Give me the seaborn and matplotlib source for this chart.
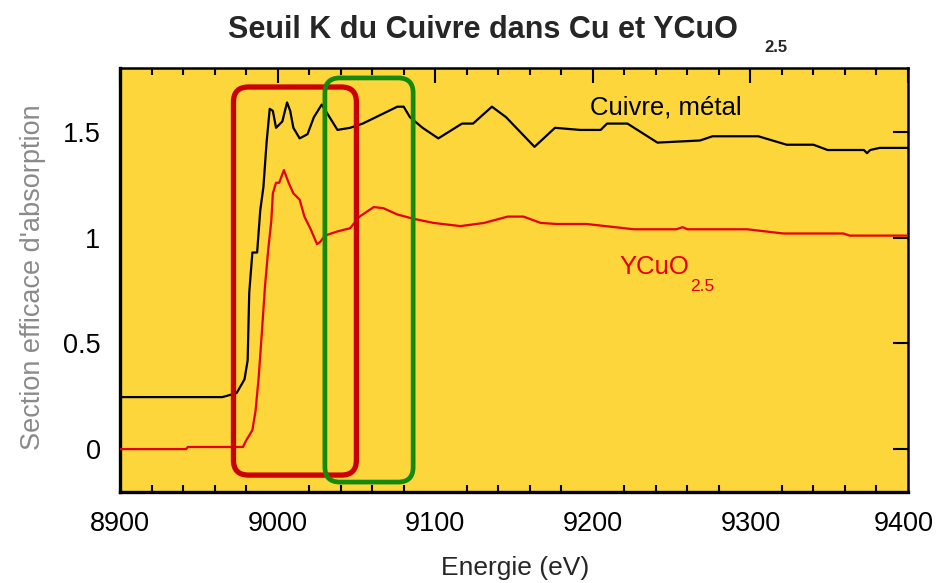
import numpy as np
import pandas as pd
import matplotlib
matplotlib.use("Agg")
import matplotlib.pyplot as plt
import matplotlib.transforms as mtransforms
import seaborn as sns
from matplotlib.patches import FancyBboxPatch
from matplotlib.ticker import MultipleLocator, FuncFormatter

# ---- data ----
cu_energy = [8900, 8965, 8974, 8979, 8981, 8982, 8984, 8987, 8989, 8991, 8993, 8995,
             8997, 8999, 9003, 9006, 9008, 9010, 9014, 9019, 9023, 9028, 9033, 9038,
             9046, 9054, 9065, 9076, 9080, 9084, 9092, 9102, 9117, 9124, 9136, 9145,
             9154, 9163, 9176, 9192, 9205, 9209, 9222, 9241, 9268, 9276, 9305, 9323,
             9340, 9349, 9372, 9374, 9376, 9382, 9400]
cu_mu = [0.246, 0.246, 0.265, 0.33, 0.42, 0.74, 0.93, 0.93, 1.13, 1.24, 1.45, 1.61,
         1.60, 1.52, 1.55, 1.64, 1.60, 1.52, 1.47, 1.49, 1.57, 1.63, 1.57, 1.51,
         1.52, 1.54, 1.58, 1.62, 1.62, 1.57, 1.52, 1.47, 1.54, 1.54, 1.62, 1.57,
         1.50, 1.43, 1.52, 1.51, 1.51, 1.54, 1.54, 1.45, 1.46, 1.48, 1.48, 1.44,
         1.44, 1.415, 1.415, 1.40, 1.415, 1.425, 1.425]

ycuo_energy = [8900, 8942, 8943, 8978, 8980, 8984, 8986, 8988, 8990, 8992, 8994, 8996,
               8997, 8999, 9001, 9004, 9007, 9010, 9014, 9017, 9021, 9025, 9027, 9030,
               9038, 9046, 9052, 9061, 9067, 9076, 9086, 9099, 9116, 9131, 9146, 9156,
               9167, 9177, 9196, 9226, 9253, 9257, 9260, 9298, 9321, 9359, 9363, 9400]
ycuo_mu = [0.0, 0.0, 0.01, 0.01, 0.04, 0.09, 0.18, 0.34, 0.55, 0.77, 0.94, 1.08,
           1.21, 1.26, 1.26, 1.32, 1.26, 1.21, 1.18, 1.10, 1.04, 0.97, 0.98, 1.01,
           1.03, 1.045, 1.10, 1.145, 1.14, 1.11, 1.09, 1.07, 1.055, 1.07, 1.10, 1.10,
           1.07, 1.065, 1.065, 1.04, 1.04, 1.05, 1.04, 1.04, 1.02, 1.02, 1.01, 1.01]

x_ticks = [8900, 9000, 9100, 9200, 9300, 9400]
y_ticks = [0, 0.5, 1, 1.5]

# highlight boxes: (x0, x1, y0, y1)
red_box = (8972, 9050, -0.123, 1.713)
green_box = (9030, 9086, -0.156, 1.756)

# ---- plot ----
sns.set_theme(style="white")
plt.rcParams['font.family'] = ['Liberation Sans', 'DejaVu Sans']

fig = plt.figure(figsize=(9.36, 5.83), dpi=100)
ax = fig.add_axes([120/936, 1-492/583, 788/936, 424/583])
ax.set_facecolor('#FCD63A')

df_cu = pd.DataFrame({'E': cu_energy, 'mu': cu_mu})
df_y = pd.DataFrame({'E': ycuo_energy, 'mu': ycuo_mu})
sns.lineplot(data=df_cu, x='E', y='mu', ax=ax, color='black', lw=1.6, zorder=3)
sns.lineplot(data=df_y, x='E', y='mu', ax=ax, color='#E60000', lw=1.6, zorder=3)

ax.set_xlim(8900, 9400)
ax.set_ylim(-0.203, 1.803)
ax.set_xticks(x_ticks)
ax.set_yticks(y_ticks)
ax.xaxis.set_minor_locator(MultipleLocator(20))
ax.yaxis.set_major_formatter(FuncFormatter(lambda v, p: f"{v:g}"))
ax.tick_params(which='both', direction='in', top=True, right=True, colors='black',
               labelsize=19.5, width=1.5)
ax.tick_params(which='major', length=10.5)
ax.tick_params(axis='x', which='major', pad=14)
ax.tick_params(axis='y', which='major', pad=14)
ax.tick_params(which='minor', length=5, bottom=True, top=True)
for s in ax.spines.values():
    s.set_color('black')
    s.set_linewidth(1.8)
ax.spines['bottom'].set_linewidth(2.4)
ax.spines['left'].set_linewidth(2.4)

# keep the last x tick label inside the canvas
last = ax.get_xticklabels()[-1]
last.set_transform(last.get_transform() +
                   mtransforms.ScaledTranslation(-4/100, 0, fig.dpi_scale_trans))

ax.set_xlabel('Energie (eV)', fontsize=19, va='center')
ax.set_ylabel("Section efficace d'absorption", fontsize=19.5, color='#8a8a8a', va='center')
ax.xaxis.set_label_coords((515-120)/788, -(568-492)/424)
ax.yaxis.set_label_coords((33-120)/788, (492-277)/424)

# rounded highlight boxes
fig.canvas.draw()
p0 = ax.transData.transform((8900, 0))
p1 = ax.transData.transform((8901, 1))
px_per_x = p1[0] - p0[0]
px_per_y = p1[1] - p0[1]
aspect = px_per_x / px_per_y
radius_px = 15
for (x0, x1, y0, y1), col, lw in [(red_box, '#CC0000', 3.8), (green_box, '#158A0A', 3.4)]:
    patch = FancyBboxPatch((x0, y0), x1 - x0, y1 - y0,
                           boxstyle=f"round,pad=0,rounding_size={radius_px/px_per_x}",
                           mutation_aspect=aspect, fill=False, ec=col, lw=lw,
                           zorder=5, clip_on=False)
    ax.add_patch(patch)

# series labels
ax.text(9198, 1.615, 'Cuivre, métal', fontsize=18.5, color='black', va='center', ha='left', zorder=6)
ax.text(9217, 0.86, 'YCuO', fontsize=18.5, color='#E60000', va='center', ha='left', zorder=6)
ax.text(9262, 0.77, '2.5', fontsize=12.5, color='#E60000', va='center', ha='left', zorder=6)

# title
fig.text(483/936, 1-30/583, 'Seuil K du Cuivre dans Cu et YCuO', fontsize=22,
         fontweight='bold', ha='center', va='center')
fig.text(776/936, 1-48/583, '2.5', fontsize=12, fontweight='bold', ha='center', va='center')

fig.savefig('out.png', dpi=100)
